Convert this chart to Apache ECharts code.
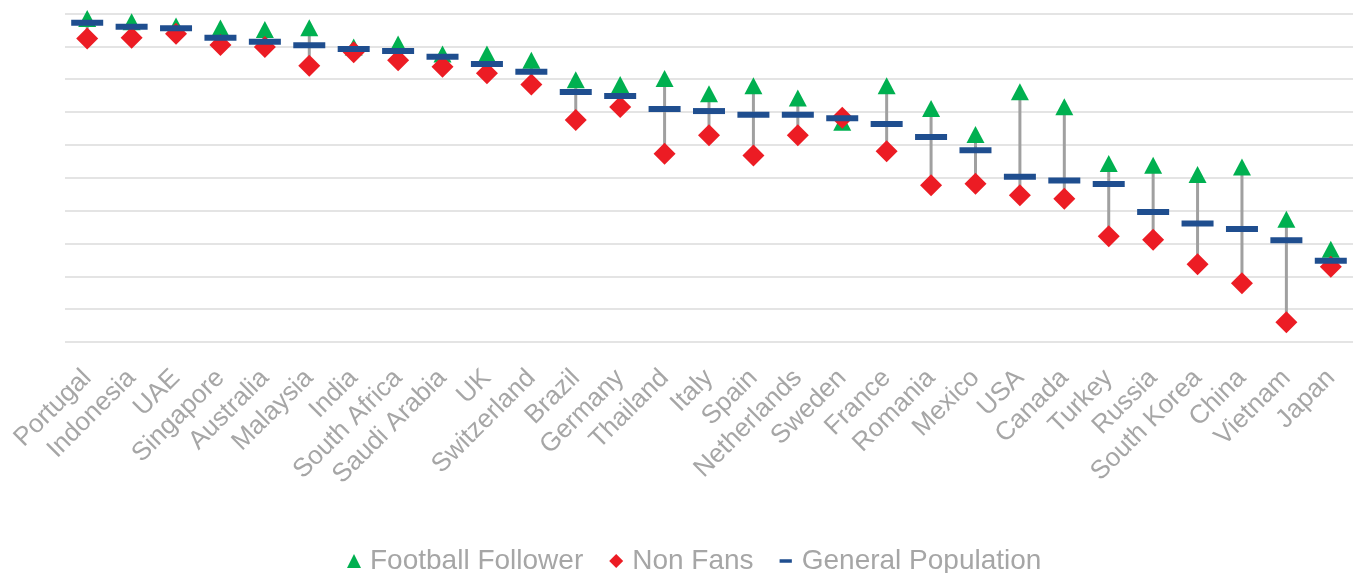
<!DOCTYPE html>
<html>
<head>
<meta charset="utf-8">
<script src="https://cdn.jsdelivr.net/npm/echarts@6/dist/echarts.min.js"></script>
<style>
	html, body { margin:0; padding:0; background:#fff; }
	#echart { width:1359px; height:573px; }
</style>
</head>
<body>
<div id="echart"></div>
<script>
var countries = ['Portugal','Indonesia','UAE','Singapore','Australia','Malaysia','India','South Africa','Saudi Arabia','UK','Switzerland','Brazil','Germany','Thailand','Italy','Spain','Netherlands','Sweden','France','Romania','Mexico','USA','Canada','Turkey','Russia','South Korea','China','Vietnam','Japan'];
var footballFollower = [98.5,97.5,96.2,95.6,95.1,95.7,89.8,90.7,87.7,87.7,85.8,79.8,78.4,80.2,75.6,78.0,74.3,66.9,78.0,71.1,63.2,76.2,71.6,54.3,53.8,51.0,53.3,37.4,28.2];
var generalPopulation = [97.2,96.0,95.5,92.6,91.4,90.3,89.2,88.6,86.8,84.6,82.3,76.1,74.9,70.9,70.3,69.2,69.2,68.1,66.4,62.4,58.4,50.3,49.2,48.1,39.6,36.1,34.4,31.0,24.7];
var nonFans = [92.4,92.6,93.8,90.4,89.8,84.1,88.2,85.8,83.8,81.8,78.4,67.6,71.5,57.3,62.9,56.8,62.9,68.3,58.1,47.7,48.2,44.7,43.6,32.2,31.1,23.7,17.9,6.0,22.9];

var labelFont = '"Liberation Sans", Arial, sans-serif';
var dashIcon = 'path://M0,0 M0,6 L14,6 L14,10 L0,10 Z M14,16';

function initReport(){
	var myChart = echarts.init(document.getElementById('echart'));
	// high-low line between follower and non fan
	var hiLow = [];
	for (var i = 0; i < countries.length; i++) {
		hiLow.push([i, Math.max(footballFollower[i], nonFans[i]), Math.min(footballFollower[i], nonFans[i])]);
	}
	var option = {
		animation:false,
		grid:{left:65, right:6, top:13.5, bottom:231},
		legend:{
			data:[
				{name:'Football Follower', icon:'triangle'},
				{name:'Non Fans', icon:'diamond'},
				{name:'General Population', icon:dashIcon}
			],
			left:342,
			top:542,
			itemWidth:14,
			itemHeight:14,
			itemGap:26,
			textStyle:{color:'#a6a6a6', fontSize:28, fontFamily:labelFont, padding:[0,0,0,4]}
		},
		xAxis:{
			type:'category',
			data:countries,
			axisLine:{show:false},
			axisTick:{show:false},
			axisLabel:{interval:0, rotate:45, margin:32, color:'#a6a6a6', fontSize:26, fontFamily:labelFont}
		},
		yAxis:{
			type:'value',
			min:0,
			max:100,
			interval:10,
			axisLabel:{show:false},
			axisLine:{show:false},
			axisTick:{show:false},
			splitLine:{lineStyle:{color:'#e4e4e4', width:2}}
		},
		series:[
			{
				name:'hilow',
				type:'custom',
				z:1,
				data:hiLow,
				renderItem:function(params, api){
					var p1 = api.coord([api.value(0), api.value(1)]);
					var p2 = api.coord([api.value(0), api.value(2)]);
					return {
						type:'line',
						shape:{x1:p1[0], y1:p1[1], x2:p2[0], y2:p2[1]},
						style:{stroke:'#a0a0a0', lineWidth:3}
					};
				}
			},
			{
				name:'Football Follower',
				type:'scatter',
				z:2,
				symbol:'triangle',
				symbolSize:[18,17],
				itemStyle:{color:'#00b050', opacity:1},
				data:footballFollower
			},
			{
				name:'Non Fans',
				type:'scatter',
				z:3,
				symbol:'diamond',
				symbolSize:22,
				itemStyle:{color:'#ec1c24', opacity:1},
				data:nonFans
			},
			{
				name:'General Population',
				type:'scatter',
				z:4,
				symbol:'rect',
				symbolSize:[32,6],
				itemStyle:{color:'#1f4e8f', opacity:1},
				data:generalPopulation
			}
		]
	};
	myChart.setOption(option);
}
initReport();
</script>
</body>
</html>
